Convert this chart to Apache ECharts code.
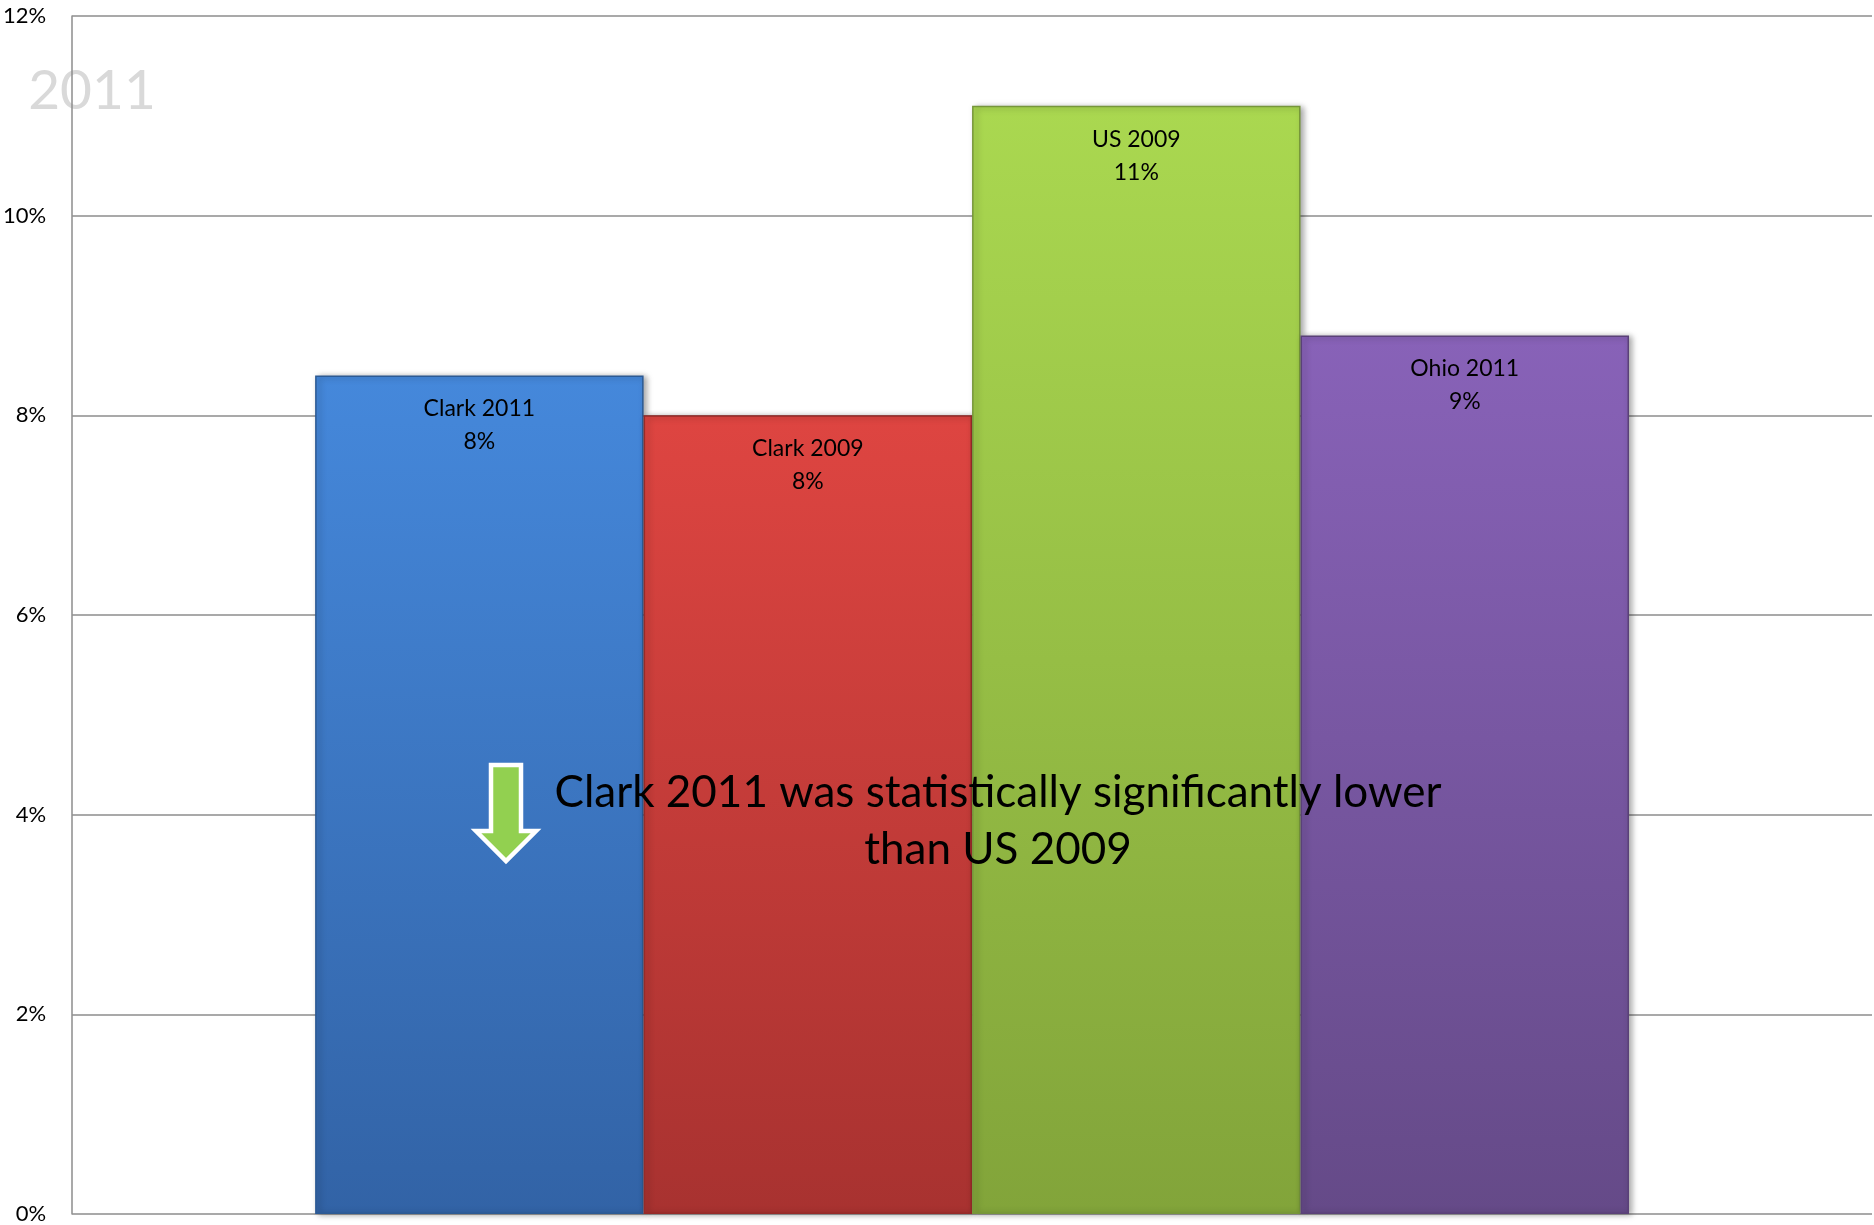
<!DOCTYPE html>
<html>
<head>
<meta charset="utf-8">
<title>Clark 2011</title>
<script src="https://cdn.jsdelivr.net/npm/echarts@6/dist/echarts.min.js"></script>
<style>
  html, body { margin: 0; padding: 0; background: #fff; }
  #chart { width: 1874px; height: 1225px; }
</style>
</head>
<body>
<div id="chart"></div>
<script>
// data
const groups = ['2011'];
const seriesNames = ['Clark 2011', 'Clark 2009', 'US 2009', 'Ohio 2011'];
const seriesValues = [8.4, 8.0, 11.1, 8.8];
const yTicks = [0, 2, 4, 6, 8, 10, 12];

// top / bottom gradient colours for each bar
const topColors = ['#4588db', '#de4541', '#aad850', '#8862b8'];
const bottomColors = ['#3263a6', '#a83230', '#82a43a', '#654a88'];
const borderColors = ['#2c5a94', '#962b29', '#76963a', '#5a4178'];

const font = 'Lato, "Open Sans", sans-serif';

let chart = echarts.init(document.getElementById('chart'));

let series = seriesNames.map(function (name, i) {
  return {
    name: name,
    type: 'bar',
    barGap: '0%',
    barCategoryGap: '27%',
    data: [seriesValues[i]],
    itemStyle: {
      color: new echarts.graphic.LinearGradient(0, 0, 0, 1, [
        { offset: 0, color: topColors[i] },
        { offset: 1, color: bottomColors[i] }
      ]),
      borderColor: borderColors[i],
      borderWidth: 1.5,
      shadowColor: 'rgba(0,0,0,0.35)',
      shadowBlur: 6,
      shadowOffsetX: 3,
      shadowOffsetY: 1
    },
    label: {
      show: true,
      position: 'insideTop',
      distance: 17,
      color: '#000',
      fontFamily: font,
      fontSize: 23,
      lineHeight: 33,
      formatter: function (p) {
        return p.seriesName + '\n' + Math.round(p.value) + '%';
      }
    }
  };
});

chart.setOption({
  animation: false,
  grid: { left: 70, right: 2, top: 16, bottom: 6 },
  xAxis: {
    type: 'category',
    data: groups,
    show: false
  },
  yAxis: {
    type: 'value',
    min: yTicks[0],
    max: yTicks[yTicks.length - 1],
    interval: 2,
    axisLine: { show: true, lineStyle: { color: '#8c8c8c', width: 1.5 } },
    axisTick: { show: false },
    splitLine: { lineStyle: { color: '#8c8c8c', width: 1.5 } },
    axisLabel: {
      color: '#000',
      fontFamily: font,
      fontSize: 22,
      margin: 26,
      formatter: '{value}%'
    }
  },
  graphic: [
    {
      type: 'text',
      z: -1,
      x: 92,
      y: 91,
      style: {
        text: '2011',
        fill: '#d9d9d9',
        font: '55px ' + font,
        textAlign: 'center',
        textVerticalAlign: 'middle'
      }
    },
    {
      type: 'polygon',
      z: 100,
      shape: {
        points: [[491, 765], [521, 765], [521, 831], [536, 831], [506, 861], [476, 831], [491, 831]]
      },
      style: { fill: '#92d050', stroke: '#fff', lineWidth: 4.5 }
    },
    {
      type: 'text',
      z: 100,
      x: 998,
      y: 821,
      style: {
        text: 'Clark 2011 was statistically significantly lower\nthan US 2009',
        fill: '#000',
        font: '44px ' + font,
        lineHeight: 57,
        textAlign: 'center',
        textVerticalAlign: 'middle'
      }
    }
  ],
  series: series
});
</script>
</body>
</html>
